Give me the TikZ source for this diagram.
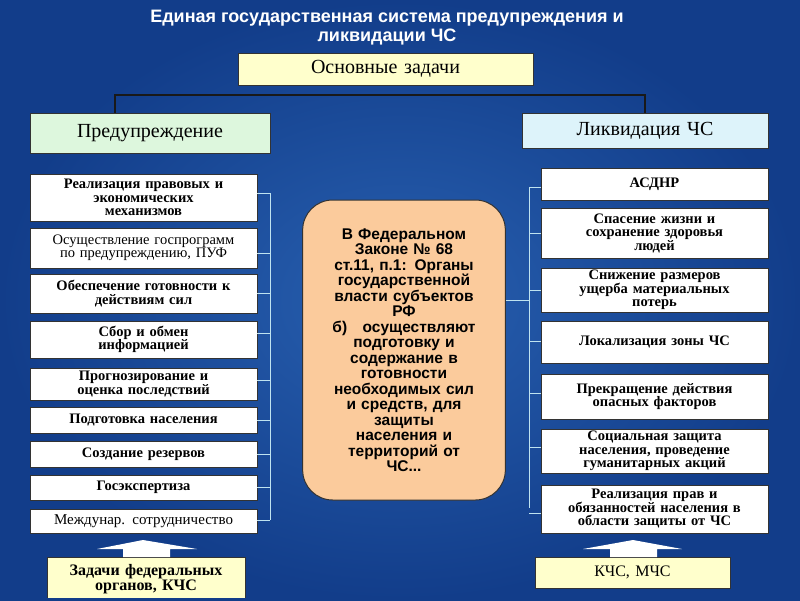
\documentclass[tikz,border=0pt]{standalone}
\usepackage{fontspec}
\setmainfont{Liberation Serif}
\newfontfamily\arialf{Liberation Sans}
\definecolor{bgin}{HTML}{2860B0}
\definecolor{bgout}{HTML}{123D8A}
\definecolor{lyel}{HTML}{FFFFCC}
\definecolor{lgreen}{HTML}{DDF7DD}
\definecolor{lcyan}{HTML}{DDF3FA}
\definecolor{peach}{HTML}{FBCB9C}
\definecolor{brk}{HTML}{BFE3F0}
\tikzset{
 box/.style={draw=black!80, line width=0.8pt, fill=white, inner sep=0pt, align=center,
   font=\bfseries\fontsize{14.5}{13.5}\selectfont},
 hdr/.style={draw=black!80, line width=0.8pt, inner sep=0pt, align=center,
   font=\fontsize{20}{20}\selectfont},
 brkline/.style={draw=brk, line width=0.9pt},
 topline/.style={draw=black!90, line width=1.1pt},
 arr/.style={fill=white, draw=none}
}
\newcommand{\bx}[7][box]{\node[#1, minimum width={(#5-#3)*1pt}, minimum height={(#6-#4)*1pt}, text width={(#5-#3)*1pt}] (#2) at ({(#3+#5)/2},{(#4+#6)/2}) {#7};}
\begin{document}
\begin{tikzpicture}[x=1pt,y=-1pt]
\useasboundingbox (0,0) rectangle (800,600);
\shade[inner color=bgin, outer color=bgout] (0,0) rectangle (800,600);
\node[text=white, font=\arialf\bfseries\fontsize{18}{19}\selectfont, align=center] (title) at (387,28) {Единая государственная система предупреждения и\\ликвидации ЧС};
\bx[hdr,fill=lyel]{main}{238}{53}{533}{85}{Основные задачи}
\bx[hdr,fill=lgreen]{prev}{30}{113}{270}{153}{Предупреждение}
\bx[hdr,fill=lcyan]{liq}{522}{113}{768}{148}{Ликвидация ЧС}
\coordinate (tl) at (115,95); \coordinate (tr) at (645,95);
\draw[topline] (prev.north -| tl) -- (tl) -- (tr) -- (liq.north -| tr);
% left column
\bx{l1}{30}{174}{257}{221}{Реализация правовых и\\экономических\\механизмов}
\bx{l2}{30}{228}{257}{268}{\mdseries\fontsize{14.5}{15}\selectfont Осуществление госпрограмм\\по предупреждению, ПУФ}
\bx{l3}{30}{274}{257}{313}{Обеспечение готовности к\\действиям сил}
\bx{l4}{30}{321}{257}{358}{Сбор и обмен\\информацией}
\bx{l5}{30}{368}{257}{400}{Прогнозирование и\\оценка последствий}
\bx{l6}{30}{407}{257}{433}{Подготовка населения}
\bx{l7}{30}{441}{257}{467}{Создание резервов}
\bx{l8}{30}{475}{257}{500}{Госэкспертиза}
\bx{l9}{30}{509}{257}{533}{\mdseries\fontsize{15}{16}\selectfont Междунар. сотрудничество}
\draw[brkline] (270,193) -- (270,520);
\foreach \n/\y in {l1/193,l2/253,l3/293,l4/333,l5/380,l6/420,l7/454,l8/487,l9/520}
  \draw[brkline] (\n.east |- 0,\y) -- (270,\y);
% right column
\bx{r1}{541}{168}{768}{200}{АСДНР}
\bx{r2}{541}{208}{768}{258}{Спасение жизни и\\сохранение здоровья\\людей}
\bx{r3}{541}{268}{768}{312}{Снижение размеров\\ущерба материальных\\потерь}
\bx{r4}{541}{321}{768}{363}{Локализация зоны ЧС\\[14pt]}
\bx{r5}{541}{374}{768}{419}{Прекращение действия\\опасных факторов}
\bx{r6}{541}{429}{768}{473}{Социальная защита\\населения, проведение\\гуманитарных акций}
\bx{r7}{541}{485}{768}{533}{Реализация прав и\\обязанностей населения в\\области защиты от ЧС}
\draw[brkline] (529,187) -- (529,508);
\foreach \n/\y in {r1/187,r2/233,r3/290,r4/341,r5/393,r6/447,r7/513}
  \draw[brkline] (529,\y) -- (\n.west |- 0,\y);
% centre
\node[draw=black!80, line width=1pt, fill=peach, rounded corners=30pt, minimum width=198pt, minimum height=300pt, text width=196pt, align=center,
  font=\arialf\bfseries\fontsize{15.5}{15.5}\selectfont] (law) at (404,350)
 {В Федеральном\\Законе № 68\\ст.11, п.1: Органы\\государственной\\власти субъектов\\РФ\\б)\quad осуществляют\\подготовку и\\содержание в\\готовности\\необходимых сил\\и средств, для\\защиты\\населения и\\территорий от\\ЧС...};
\draw[brkline] (law.east |- 0,300) -- (529,300);
% bottom
\begin{scope}
\clip (0,0) rectangle (800,597);
\bx[hdr,fill=lyel,font=\bfseries\fontsize{16}{15}\selectfont]{fed}{47}{557}{245}{602}{Задачи федеральных\\органов, КЧС}
\end{scope}
\bx[hdr,fill=lyel,font=\fontsize{16}{16}\selectfont]{kchs}{535}{557}{730}{588}{КЧС, МЧС}
\fill[arr] (143,540) -- (197,549) -- (170,549) -- (170,557) -- (123,557) -- (123,549) -- (97,549) -- cycle;
\fill[arr] (633,540) -- (682,549) -- (657,549) -- (657,557) -- (610,557) -- (610,549) -- (583,549) -- cycle;
\end{tikzpicture}
\end{document}
